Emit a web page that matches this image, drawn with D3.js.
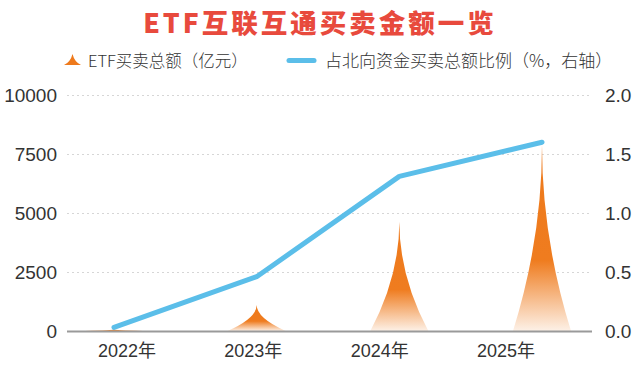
<!DOCTYPE html>
<html><head><meta charset="utf-8">
<script src="https://cdn.jsdelivr.net/npm/d3@7/dist/d3.min.js"></script>
<style>
html,body{margin:0;padding:0;background:#fff;}
svg{display:block;font-family:"Liberation Sans","Noto Sans CJK SC",sans-serif;}
</style></head>
<body>
<svg id="chart" width="640" height="369"></svg>
<script>
const years = ["2022年", "2023年", "2024年", "2025年"];
const etfTotal = [60, 1100, 4630, 7880];          // 亿元
const northRatio = [0.03, 0.46, 1.31, 1.6];        // %
const leftTicks = [0, 2500, 5000, 7500, 10000];
const rightTicks = [0, 0.5, 1.0, 1.5, 2.0];
const titleText = "ETF互联互通买卖金额一览";
const legendBar = "ETF买卖总额（亿元）";
const legendLine = "占北向资金买卖总额比例（%，右轴）";

const svg = d3.select("#chart");
const pL = 67, pR = 592, pT = 95, pB = 331;

const x = d3.scalePoint().domain(years).range([114, 542]);
const xLabel = d3.scalePoint().domain(years).range([127, 506]);
const yL = d3.scaleLinear().domain([0, 10000]).range([pB, pT]);
const yR = d3.scaleLinear().domain([0, 2]).range([pB, pT]);

// gradient
const defs = svg.append("defs");
const grad = defs.append("linearGradient").attr("id", "og")
  .attr("x1", 0).attr("y1", 0).attr("x2", 0).attr("y2", 1);
grad.append("stop").attr("offset", "0%").attr("stop-color", "#EE7A1C");
grad.append("stop").attr("offset", "62%").attr("stop-color", "#EF7C1F");
grad.append("stop").attr("offset", "100%").attr("stop-color", "#FDF1E7");

// title
svg.append("text").attr("x", 320).attr("y", 33).attr("text-anchor", "middle")
  .attr("font-family", "'Noto Sans CJK SC',sans-serif").attr("font-weight", 900)
  .attr("font-size", 26.5).attr("letter-spacing", 3).attr("fill", "#E84A3D")
  .text(titleText);

// legend
svg.append("path").attr("d", "M64,65 L81,65 Q74.5,62 72.5,54 Q70.5,62 64,65 Z")
  .attr("fill", "#EE7A1C");
svg.append("text").attr("x", 88).attr("y", 66.5).attr("font-size", 16.5).attr("fill", "#333")
  .attr("font-family", "'Noto Sans CJK SC',sans-serif").attr("font-weight", 300).text(legendBar);
svg.append("line").attr("x1", 289).attr("x2", 314).attr("y1", 60.5).attr("y2", 60.5)
  .attr("stroke", "#5BBEE9").attr("stroke-width", 5).attr("stroke-linecap", "round");
svg.append("text").attr("x", 325).attr("y", 66.5).attr("font-size", 17).attr("fill", "#333")
  .attr("font-family", "'Noto Sans CJK SC',sans-serif").attr("font-weight", 300).text(legendLine);

// grid
svg.append("g").selectAll("line").data(leftTicks.filter(d => d > 0)).join("line")
  .attr("x1", pL).attr("x2", pR).attr("y1", d => yL(d) + 0.5).attr("y2", d => yL(d) + 0.5)
  .attr("stroke", "#d6d6d6").attr("stroke-width", 1).attr("stroke-dasharray", "2,3");

// left axis labels
svg.append("g").selectAll("text").data(leftTicks).join("text")
  .attr("x", 57).attr("y", d => yL(d) + 6.5).attr("text-anchor", "end")
  .attr("font-size", 19).attr("fill", "#333").text(d => d);
// right axis labels
svg.append("g").selectAll("text").data(rightTicks).join("text")
  .attr("x", 605).attr("y", d => yR(d) + 6.5).attr("text-anchor", "start")
  .attr("font-size", 19).attr("fill", "#333").text(d => d.toFixed(1));

// spikes (parabolic concave sides)
const hw = 29;
svg.append("g").selectAll("path").data(etfTotal).join("path")
  .attr("fill", "url(#og)")
  .attr("d", (d, i) => {
    const cx = x(years[i]), b = yL(0), t = yL(d), m = (b + t) / 2;
    return `M${cx - hw},${b} Q${cx},${m} ${cx},${t} Q${cx},${m} ${cx + hw},${b} Z`;
  });

// baseline
svg.append("line").attr("x1", pL).attr("x2", pR).attr("y1", pB + 0.5).attr("y2", pB + 0.5)
  .attr("stroke", "#9a9a9a").attr("stroke-width", 2);

// line
svg.append("path").datum(northRatio)
  .attr("d", d3.line().x((d, i) => x(years[i])).y(d => yR(d)))
  .attr("fill", "none").attr("stroke", "#5BBEE9").attr("stroke-width", 5)
  .attr("stroke-linejoin", "round").attr("stroke-linecap", "round");

// x labels
svg.append("g").selectAll("text").data(years).join("text")
  .attr("x", d => xLabel(d)).attr("y", 357).attr("text-anchor", "middle")
  .attr("font-size", 18).attr("fill", "#333").text(d => d);
</script>
</body></html>
